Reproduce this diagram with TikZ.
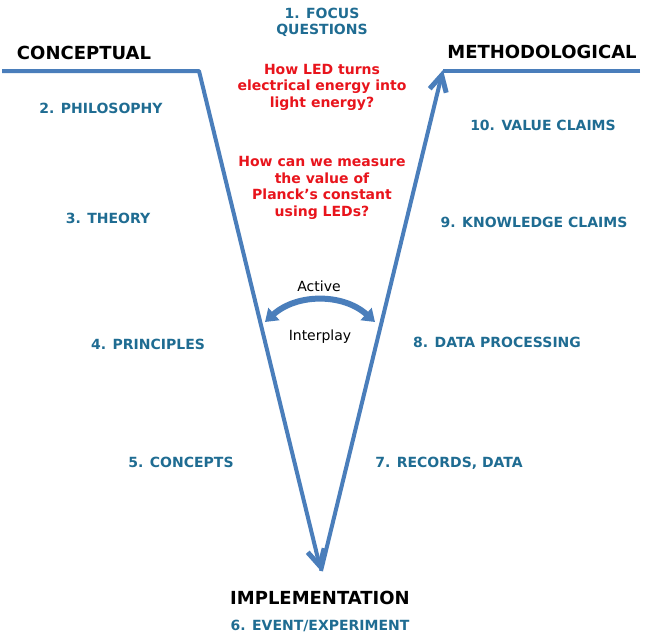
\documentclass[tikz,border=0pt]{standalone}
\usepackage{fontspec}
\setmainfont{DejaVu Sans}
\usetikzlibrary{arrows.meta}
\definecolor{vblue}{RGB}{74,126,187}
\definecolor{steptext}{RGB}{31,108,146}
\definecolor{qred}{RGB}{232,20,28}
\begin{document}
\begin{tikzpicture}[x=1pt, y=-1pt,
    heading/.style ={font=\fontsize{18}{21}\selectfont\bfseries, text=black},
    stage/.style ={font=\fontsize{14}{16}\selectfont\bfseries, text=steptext, align=center},
    question/.style ={font=\fontsize{14}{16.5}\selectfont\bfseries, text=qred, align=center},
    vline/.style ={draw=vblue, line width=4pt},
    vtip/.style ={-{Straight Barb[length=16pt, width=17pt, line width=5pt]}},
    interplay/.style ={font=\fontsize{14}{16}\selectfont, text=black}]
   \useasboundingbox (0,0) rectangle (649,643);
   % the V
   \coordinate (cstart) at (2,71);
   \coordinate (ccorner) at (199,71);
   \coordinate (vbottom) at (321,571);
   \coordinate (mcorner) at (443,70);
   \coordinate (mend) at (640,71);
   \draw[vline, line join=round, vtip] (cstart) -- (ccorner) -- (vbottom);
   \draw[vline] (mend) -- (443,71);
   \draw[vline, vtip] (vbottom) -- (mcorner);
   % headings
   \node[heading] (concept) at (84,53) {CONCEPTUAL};
   \node[heading] (method) at (542,52) {METHODOLOGICAL};
   \node[heading] (impl) at (320,598) {IMPLEMENTATION};
   % focus questions
   \node[stage] (focus) at (322,22) {1. FOCUS\\QUESTIONS};
   \node[question] (q1) at (322,87) {How LED turns\\electrical energy into\\light energy?};
   \node[question] (q2) at (322,188) {How can we measure\\the value of\\Planck's constant\\using LEDs?};
   % left side
   \node[stage] (philo) at (101,108) {2. PHILOSOPHY};
   \node[stage] (theory) at (108,218) {3. THEORY};
   \node[stage] (princ) at (148,344) {4. PRINCIPLES};
   \node[stage] (concepts) at (181,462) {5. CONCEPTS};
   % right side
   \node[stage] (value) at (543,125) {10. VALUE CLAIMS};
   \node[stage] (know) at (534,222) {9. KNOWLEDGE CLAIMS};
   \node[stage] (dataproc) at (497,342) {8. DATA PROCESSING};
   \node[stage] (records) at (449,463) {7. RECORDS, DATA};
   \node[stage] (event) at (320,626) {6. EVENT/EXPERIMENT};
   % active interplay
   \node[interplay] (active) at (319,286) {Active};
   \node[interplay] (play) at (320,337) {Interplay};
   \coordinate (aleft) at (265,322);
   \coordinate (aright) at (375,322);
   \draw[draw=vblue, line width=6pt, {Triangle[length=12pt, width=16pt]}-{Triangle[length=12pt, width=16pt]}]
      (aleft) to[bend left=42] (aright);
\end{tikzpicture}
\end{document}
